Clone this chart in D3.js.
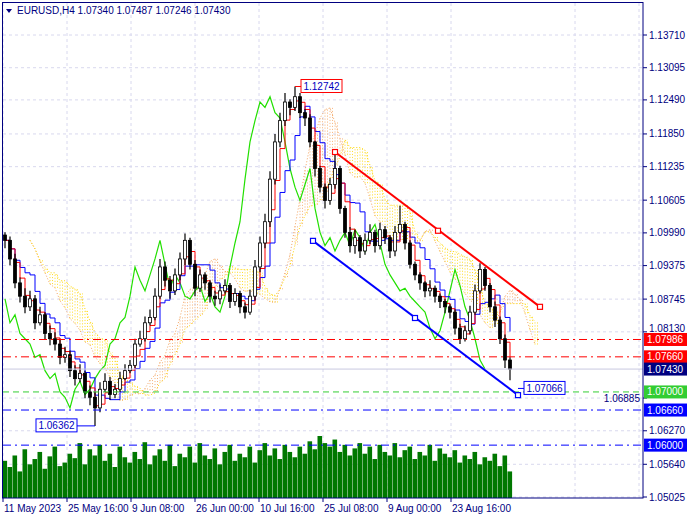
<!DOCTYPE html>
<html><head><meta charset="utf-8">
<script src="https://cdn.jsdelivr.net/npm/d3@7"></script>
<style>body{margin:0;background:#fff}text{font-family:"Liberation Sans",Arial,sans-serif;font-size:10px}</style>
</head><body>
<script>
// price data (H4, compressed, one candle ~ 5 bars)
const closes = [1.0985,1.0950,1.0905,1.0880,1.0860,1.0875,1.0830,1.0845,1.0810,1.0800,1.0790,1.0765,1.0770,1.0740,1.0725,1.0735,1.0700,1.0690,1.0670,1.0705,
1.0720,1.0695,1.0705,1.0725,1.0740,1.0750,1.0790,1.0800,1.0830,1.0840,1.0880,1.0935,1.0910,1.0890,1.0920,1.0950,1.0985,1.0940,1.0895,1.0920,
1.0905,1.0880,1.0875,1.0890,1.0900,1.0870,1.0885,1.0860,1.0850,1.0880,1.0935,1.0980,1.1020,1.1100,1.1170,1.1210,1.1245,1.1235,1.1255,1.1225,
1.1215,1.1170,1.1120,1.1085,1.1060,1.1090,1.1120,1.1045,1.1000,1.0975,1.0990,1.0965,1.0985,1.1000,1.0975,1.1005,1.0990,1.0965,1.1000,1.1015,
1.0980,1.0940,1.0920,1.0905,1.0890,1.0895,1.0880,1.0870,1.0860,1.0850,1.0820,1.0800,1.0815,1.0850,1.0890,1.0930,1.0900,1.0860,1.0835,1.0800,
1.0760,1.0743];
const highs = [1.1000,1.0992,1.0960,1.0915,1.0895,1.0890,1.0882,1.0860,1.0850,1.0825,1.0812,1.0800,1.0785,1.0778,1.0750,1.0752,1.0740,1.0712,1.0700,1.0718,
1.0735,1.0728,1.0715,1.0738,1.0752,1.0760,1.0800,1.0815,1.0842,1.0855,1.0895,1.0950,1.0945,1.0918,1.0932,1.0962,1.0998,1.0990,1.0948,1.0930,
1.0925,1.0910,1.0890,1.0902,1.0912,1.0905,1.0895,1.0890,1.0868,1.0892,1.0948,1.0992,1.1035,1.1115,1.1185,1.1225,1.1262,1.1250,1.1274,1.1262,
1.1232,1.1222,1.1172,1.1125,1.1092,1.1102,1.1150,1.1125,1.1050,1.1010,1.1005,1.0995,1.0998,1.1015,1.1005,1.1018,1.1012,1.0995,1.1012,1.1050,
1.1020,1.0985,1.0945,1.0925,1.0908,1.0910,1.0900,1.0885,1.0875,1.0865,1.0855,1.0828,1.0825,1.0862,1.0902,1.0942,1.0935,1.0905,1.0870,1.0842,
1.0808,1.0765];
const lows = [1.0970,1.0938,1.0895,1.0868,1.0848,1.0852,1.0818,1.0825,1.0798,1.0788,1.0778,1.0752,1.0755,1.0728,1.0712,1.0718,1.0688,1.0675,1.0636,1.0662,
1.0700,1.0685,1.0688,1.0700,1.0722,1.0735,1.0745,1.0785,1.0795,1.0825,1.0835,1.0875,1.0898,1.0875,1.0882,1.0910,1.0938,1.0930,1.0880,1.0888,
1.0892,1.0868,1.0862,1.0865,1.0885,1.0858,1.0862,1.0848,1.0838,1.0845,1.0872,1.0925,1.0970,1.1010,1.1090,1.1160,1.1200,1.1220,1.1228,1.1215,
1.1200,1.1160,1.1105,1.1075,1.1045,1.1052,1.1082,1.1035,1.0990,1.0962,1.0960,1.0952,1.0958,1.0978,1.0962,1.0968,1.0978,1.0952,1.0955,1.0998,
1.0968,1.0932,1.0910,1.0892,1.0878,1.0880,1.0868,1.0858,1.0848,1.0838,1.0808,1.0790,1.0795,1.0808,1.0845,1.0885,1.0890,1.0850,1.0822,1.0790,
1.0745,1.0722];
const volumes = [42,35,48,30,55,38,44,52,33,47,58,36,40,50,45,62,38,55,48,60,
42,50,35,58,46,40,52,44,63,38,48,55,42,60,36,50,46,58,40,62,
48,44,56,38,52,60,42,50,46,58,40,54,62,48,56,44,60,52,46,58,
50,64,55,70,62,58,66,52,60,48,56,62,50,58,44,60,52,48,62,46,
54,58,44,52,48,60,42,56,50,46,54,40,48,44,52,38,46,42,50,36,
48,30];
const priceTicks = [1.13710,1.13095,1.12490,1.11850,1.11235,1.10605,1.09990,1.09375,1.08745,1.08130,1.06885,1.06270,1.05640,1.05025];
const dateTicks = [-0.4,12.4,25.2,38.0,50.8,63.6,76.4,89.2];
const dateLabels = ["11 May 2023","25 May 16:00","9 Jun 08:00","26 Jun 00:00","10 Jul 16:00","25 Jul 08:00","9 Aug 00:00","23 Aug 16:00"];
// horizontal levels
const levels = [
  {p:1.07986, c:"#ff0000", dash:"8,4,2,4", bg:"#ff0000"},
  {p:1.07660, c:"#ff0000", dash:"8,4,2,4", bg:"#ff0000"},
  {p:1.07000, c:"#32cd32", dash:"6,4", bg:"#32cd32"},
  {p:1.06660, c:"#0000ff", dash:"8,4,2,4", bg:"#0000ff"},
  {p:1.06000, c:"#0000ff", dash:"8,4,2,4", bg:"#0000ff"}];
const bid = 1.07430;
const redTrend = [[66,1.1151],[86.6,1.1003],[107,1.0860]];
const blueTrend = [[61.6,1.0984],[82,1.0839],[102.6,1.0694]];
const priceMarks = [{i:58,p:1.12742,c:"#ff0000",side:"right"},{i:18,p:1.06362,c:"#0000ff",side:"left"},{i:102.6,p:1.07066,c:"#0000ff",side:"right"}];

const W = 690, H = 520, axisX = 643, bottom = 498;
const svg = d3.select("body").append("svg").attr("width", W).attr("height", H);

const x = d3.scaleLinear().domain([0, 101]).range([5, 510]);
const y = d3.scaleLinear().domain([1.05025, 1.13710]).range([497, 35]);
const vy = d3.scaleLinear().domain([0, 70]).range([bottom, 436]);

// grid
const grid = svg.append("g").attr("stroke", "#d8d8ee").attr("stroke-dasharray", "3,3");
priceTicks.forEach(p => grid.append("line").attr("x1", 3).attr("x2", axisX).attr("y1", y(p)).attr("y2", y(p)));
dateTicks.forEach(t => grid.append("line").attr("x1", x(t)).attr("x2", x(t)).attr("y1", 3).attr("y2", bottom));
[575, 639].forEach(xx => grid.append("line").attr("x1", xx).attr("x2", xx).attr("y1", 3).attr("y2", bottom));

// volumes
svg.append("g").selectAll("rect").data(volumes).join("rect")
  .attr("x", (d, i) => x(i) - 2.5).attr("width", 4.6)
  .attr("y", d => vy(d)).attr("height", d => bottom - vy(d)).attr("fill", "#007800");

// ichimoku computed from the candles
const mid = (i, len) => {
  const s = Math.max(0, i - len + 1);
  return (d3.max(highs.slice(s, i + 1)) + d3.min(lows.slice(s, i + 1))) / 2;
};
const tenkan = closes.map((c, i) => mid(i, 2));
const kijun = closes.map((c, i) => mid(i, 5));
const shift = 5;
const spanA = closes.map((c, i) => ({i: i + shift, v: (tenkan[i] + kijun[i]) / 2}));
const spanB = closes.map((c, i) => ({i: i + shift, v: mid(i, 10)}));

const cloud = svg.append("g").attr("stroke-dasharray", "1,2");
spanA.forEach((a, k) => {
  const b = spanB[k];
  [0, 2.5].forEach(off => {
    cloud.append("line").attr("x1", x(a.i) + off).attr("x2", x(a.i) + off)
      .attr("y1", y(a.v)).attr("y2", y(b.v))
      .attr("stroke", a.v >= b.v ? "#f4a460" : "#ffd700").attr("stroke-opacity", 0.85);
  });
});
const line = d3.line().x(d => x(d.i)).y(d => y(d.v));
svg.append("path").datum(spanA).attr("d", line).attr("fill", "none").attr("stroke", "#f4a460").attr("stroke-dasharray", "1,2");
svg.append("path").datum(spanB).attr("d", line).attr("fill", "none").attr("stroke", "#ffd700").attr("stroke-dasharray", "1,2");
svg.append("path").datum(closes.map((c, i) => ({i: i - shift, v: c})).filter(d => d.i >= -0.4))
  .attr("d", line).attr("fill", "none").attr("stroke", "#22e000").attr("stroke-width", 1.2);
const step = d3.line().curve(d3.curveStepAfter).x(d => x(d.i)).y(d => y(d.v));
svg.append("path").datum(kijun.map((v, i) => ({i, v}))).attr("d", step).attr("fill", "none").attr("stroke", "#0000ff");
svg.append("path").datum(tenkan.map((v, i) => ({i, v}))).attr("d", step).attr("fill", "none").attr("stroke", "#ff0000");

// candles
const cg = svg.append("g");
closes.forEach((c, i) => {
  const o = i === 0 ? 1.0995 : closes[i - 1];
  cg.append("line").attr("x1", x(i)).attr("x2", x(i)).attr("y1", y(highs[i])).attr("y2", y(lows[i])).attr("stroke", "#000").attr("stroke-width", 1.2);
  cg.append("rect").attr("x", x(i) - 1.5).attr("width", 3)
    .attr("y", y(Math.max(o, c))).attr("height", Math.max(1, Math.abs(y(o) - y(c))))
    .attr("fill", c >= o ? "#fff" : "#000").attr("stroke", "#000").attr("stroke-width", 0.8);
});

// horizontal levels
levels.forEach(l => svg.append("line").attr("x1", 3).attr("x2", axisX).attr("y1", y(l.p)).attr("y2", y(l.p))
  .attr("stroke", l.c).attr("stroke-dasharray", l.dash));
svg.append("line").attr("x1", 3).attr("x2", axisX).attr("y1", y(bid)).attr("y2", y(bid)).attr("stroke", "#c8c8e0");

// trend lines
[[redTrend, "#ff0000"], [blueTrend, "#0000ff"]].forEach(([pts, col]) => {
  svg.append("line").attr("x1", x(pts[0][0])).attr("y1", y(pts[0][1])).attr("x2", x(pts[2][0])).attr("y2", y(pts[2][1]))
    .attr("stroke", col).attr("stroke-width", 2);
  pts.forEach(p => svg.append("rect").attr("x", x(p[0]) - 2.5).attr("y", y(p[1]) - 2.5).attr("width", 5).attr("height", 5)
    .attr("fill", "#fff").attr("stroke", col).attr("stroke-width", 1.2));
});

// price marks
priceMarks.forEach(m => {
  const px = x(m.i), py = y(m.p), w = 41;
  const bx = m.side === "right" ? px + 6 : px - 6 - w - 12;
  svg.append("line").attr("x1", px).attr("x2", m.side === "right" ? bx : bx + w).attr("y1", py).attr("y2", py).attr("stroke", m.c);
  svg.append("rect").attr("x", bx).attr("y", py - 7).attr("width", w).attr("height", 13).attr("fill", "#fff").attr("stroke", m.c);
  svg.append("text").attr("x", bx + w / 2).attr("y", py + 3.5).attr("text-anchor", "middle").attr("fill", "#0000c0").text(m.p.toFixed(5));
});

// frame
svg.append("rect").attr("x", 2.5).attr("y", 2.5).attr("width", axisX - 2.5).attr("height", bottom - 2.5)
  .attr("fill", "none").attr("stroke", "#000080");

// right axis: ticks crowded by level labels
const labelPrices = levels.map(l => l.p).concat([bid]);
priceTicks.forEach(p => {
  svg.append("line").attr("x1", axisX).attr("x2", axisX + 4).attr("y1", y(p)).attr("y2", y(p)).attr("stroke", "#000080");
  const near = labelPrices.filter(q => Math.abs(y(q) - y(p)) < 12);
  if (near.length > 1) {
    // squeezed between two labels: write it just inside the axis
    svg.append("text").attr("x", axisX - 3).attr("y", y(p) + 3.5).attr("text-anchor", "end")
      .attr("font-size", "9px").attr("fill", "#000080").text(p.toFixed(5));
    return;
  }
  let ty = y(p) + 3.5;
  if (near.length) ty = y(p) < y(near[0]) ? y(near[0]) - 7.5 : y(near[0]) + 16.5;
  svg.append("text").attr("x", axisX + 6).attr("y", ty).attr("fill", "#000080").text(p.toFixed(5));
});
levels.concat([{p: bid, bg: "#000080"}]).forEach(l => {
  svg.append("rect").attr("x", axisX + 1).attr("y", y(l.p) - 6.5).attr("width", 43).attr("height", 13).attr("fill", l.bg);
  svg.append("text").attr("x", axisX + 4).attr("y", y(l.p) + 3.5).attr("fill", "#fff").text(l.p.toFixed(5));
});

// bottom axis
dateTicks.forEach((t, k) => {
  svg.append("line").attr("x1", x(t)).attr("x2", x(t)).attr("y1", bottom).attr("y2", bottom + 4).attr("stroke", "#000080");
  svg.append("text").attr("x", x(t) + 1).attr("y", bottom + 14).attr("fill", "#000080").text(dateLabels[k]);
});

// header
svg.append("path").attr("d", "M6,9 L12,9 L9,13 Z").attr("fill", "#000080");
svg.append("text").attr("x", 17).attr("y", 14).attr("fill", "#000080").text("EURUSD,H4  1.07340 1.07487 1.07246 1.07430");
</script>
</body></html>
